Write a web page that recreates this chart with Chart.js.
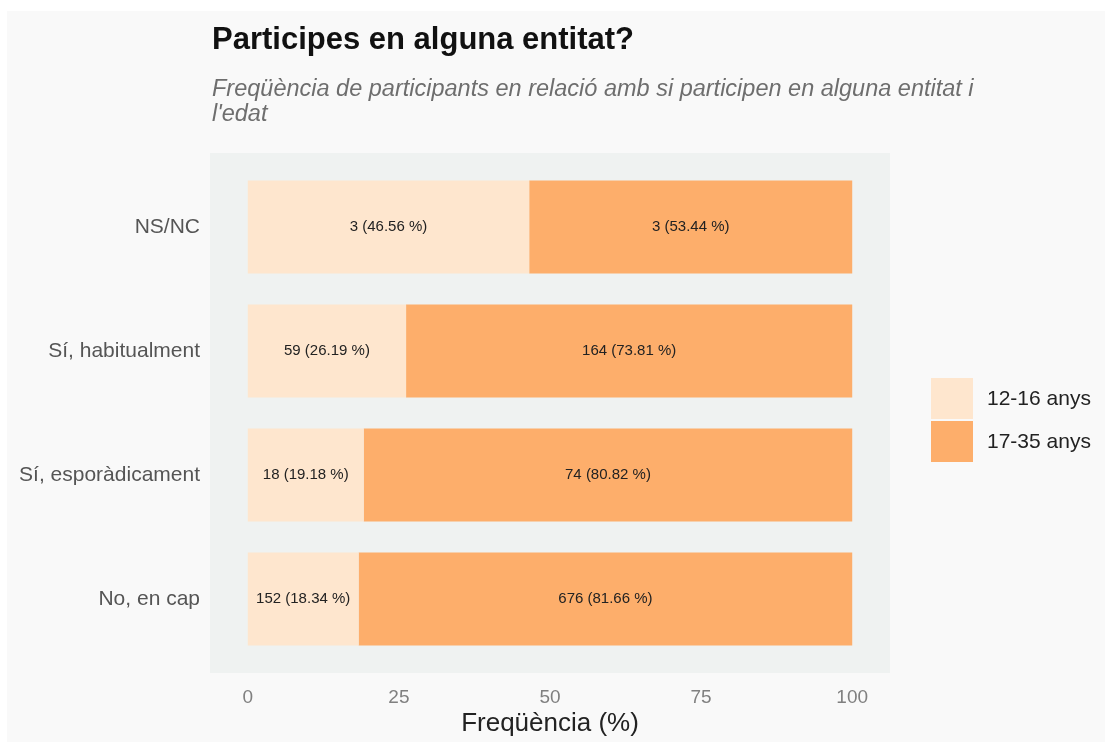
<!DOCTYPE html>
<html>
<head>
<meta charset="utf-8">
<script src="https://cdn.jsdelivr.net/npm/chart.js@4/dist/chart.umd.min.js"></script>
<style>
  html, body { margin: 0; padding: 0; background: #ffffff; }
  #wrap { position: absolute; left: 0; top: 0; width: 1105px; height: 742px; }
</style>
</head>
<body>
<div id="wrap"><canvas id="chart" width="1105" height="742"></canvas></div>
<script>
const categories = ["NS/NC", "Sí, habitualment", "Sí, esporàdicament", "No, en cap"];
const groups = ["12-16 anys", "17-35 anys"];
const pctYoung = [46.56, 26.19, 19.18, 18.34];
const pctOld = [53.44, 73.81, 80.82, 81.66];
const countYoung = [3, 59, 18, 152];
const countOld = [3, 164, 74, 676];
const xTicks = [0, 25, 50, 75, 100];

const FONT = "'Liberation Sans', Arial, sans-serif";
const colours = ["#fee6ce", "#fdae6b"];

// outer background, panel, titles, bar labels and legend
const decor = {
    id: "decor",
    beforeDraw(chart) {
        const ctx = chart.ctx;
        const a = chart.chartArea;
        ctx.save();
        ctx.fillStyle = "#ffffff";
        ctx.fillRect(0, 0, chart.width, chart.height);
        ctx.fillStyle = "#f9f9f9";
        ctx.fillRect(7, 11, chart.width - 7, chart.height - 11);
        ctx.fillStyle = "#eff2f1";
        ctx.fillRect(a.left, a.top - 12, a.right - a.left, a.bottom - a.top + 24);

        ctx.fillStyle = "#111111";
        ctx.font = "bold 31px " + FONT;
        ctx.textBaseline = "middle";
        ctx.textAlign = "left";
        ctx.fillText("Participes en alguna entitat?", 212, 40);

        ctx.fillStyle = "#6e6e6e";
        ctx.font = "italic 23.5px " + FONT;
        ctx.fillText("Freqüència de participants en relació amb si participen en alguna entitat i", 212, 89);
        ctx.fillText("l'edat", 212, 114);
        ctx.restore();
    },
    afterDatasetsDraw(chart) {
        const ctx = chart.ctx;
        const counts = [countYoung, countOld];
        ctx.save();
        ctx.fillStyle = "#222222";
        ctx.font = "15px " + FONT;
        ctx.textAlign = "center";
        ctx.textBaseline = "middle";
        chart.data.datasets.forEach((ds, i) => {
            chart.getDatasetMeta(i).data.forEach((bar, j) => {
                const label = counts[i][j] + " (" + ds.data[j].toFixed(2) + " %)";
                ctx.fillText(label, (bar.base + bar.x) / 2, bar.y);
            });
        });

        // legend
        ctx.font = "21px " + FONT;
        ctx.textAlign = "left";
        chart.data.datasets.forEach((ds, i) => {
            const y = 378 + i * 43;
            ctx.fillStyle = ds.backgroundColor;
            ctx.fillRect(931, y, 42, 41);
            ctx.fillStyle = "#222222";
            ctx.fillText(ds.label, 987, y + 21);
        });
        ctx.restore();
    }
};

new Chart(document.getElementById("chart"), {
    type: "bar",
    data: {
        labels: categories,
        datasets: [
            { label: groups[0], data: pctYoung, backgroundColor: colours[0] },
            { label: groups[1], data: pctOld, backgroundColor: colours[1] }
        ]
    },
    options: {
        indexAxis: "y",
        responsive: false,
        maintainAspectRatio: false,
        animation: false,
        events: [],
        datasets: {
            bar: { barPercentage: 0.75, categoryPercentage: 1, borderWidth: 0 }
        },
        layout: { padding: { top: 165, right: 215, bottom: 0, left: 0 } },
        plugins: {
            legend: { display: false },
            tooltip: { enabled: false },
            title: { display: false }
        },
        scales: {
            x: {
                stacked: true,
                min: -6.25,
                max: 106.25,
                afterBuildTicks(scale) {
                    scale.ticks = xTicks.map(v => ({ value: v }));
                },
                afterFit(scale) { scale.height = 81; },
                grid: { display: false, drawTicks: false },
                border: { display: false },
                ticks: {
                    padding: 25,
                    color: "#808080",
                    font: { family: FONT, size: 19 },
                    maxRotation: 0
                },
                title: {
                    display: true,
                    text: "Freqüència (%)",
                    color: "#222222",
                    font: { family: FONT, size: 26 },
                    padding: { top: 0, bottom: 3 }
                }
            },
            y: {
                stacked: true,
                afterFit(scale) { scale.width = 210; },
                grid: { display: false, drawTicks: false },
                border: { display: false },
                ticks: {
                    padding: 10,
                    color: "#555555",
                    font: { family: FONT, size: 21 }
                }
            }
        }
    },
    plugins: [decor]
});
</script>
</body>
</html>
